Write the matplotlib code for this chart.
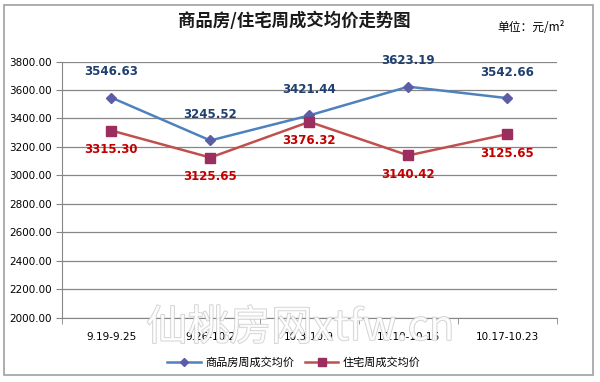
import matplotlib.pyplot as plt
import matplotlib.patheffects as pe
from matplotlib.patches import Rectangle

plt.rcParams['font.family'] = ['Noto Sans CJK SC', 'DejaVu Sans']

weeks = ["9.19-9.25", "9.26-10.2", "10.3-10.9", "10.10-10.16", "10.17-10.23"]
commercial = [3546.63, 3245.52, 3421.44, 3623.19, 3542.66]
residential = [3315.30, 3125.65, 3376.32, 3140.42, 3290.00]
# labels as printed on the chart (last residential label differs from its point)
commercial_labels = ["3546.63", "3245.52", "3421.44", "3623.19", "3542.66"]
residential_labels = ["3315.30", "3125.65", "3376.32", "3140.42", "3125.65"]
yticks = list(range(2000, 3801, 200))

fig = plt.figure(figsize=(6, 3.82), dpi=100)
fig.patches.append(Rectangle((0.007, 0.018), 0.982, 0.968, transform=fig.transFigure,
                             fill=False, edgecolor="#a0a0a0", linewidth=1.2))

ax = fig.add_axes([0.103, 0.168, 0.825, 0.671])
x = range(len(weeks))

ax.plot(x, commercial, color="#4f81bd", lw=1.8, marker="D", ms=5.5,
        mfc="#5b5ea6", mec="#5b5ea6", label="商品房周成交均价", zorder=3)
ax.plot(x, residential, color="#c0504d", lw=1.8, marker="s", ms=6.5,
        mfc="#9b2d5f", mec="#9b2d5f", label="住宅周成交均价", zorder=3)

for i, (v, t) in enumerate(zip(commercial, commercial_labels)):
    ax.annotate(t, (i, v), xytext=(0, 14), textcoords="offset points", ha="center",
                va="bottom", fontsize=8.5, fontweight="bold", color="#1f3f6e",
                family="DejaVu Sans")
for i, (v, t) in enumerate(zip(residential, residential_labels)):
    ax.annotate(t, (i, v), xytext=(0, -9), textcoords="offset points", ha="center",
                va="top", fontsize=8.5, fontweight="bold", color="#c00000",
                family="DejaVu Sans")

ax.set_xlim(-0.5, len(weeks) - 0.5)
ax.set_ylim(2000, 3800)
ax.set_yticks(yticks)
ax.set_yticklabels([f"{v:.2f}" for v in yticks], fontsize=7.5, family="DejaVu Sans")
ax.set_xticks(list(x))
ax.set_xticklabels(weeks, fontsize=7.5, family="DejaVu Sans")
ax.set_xticks([i + 0.5 for i in range(-1, len(weeks))], minor=True)
ax.tick_params(axis="x", which="major", length=0, pad=10)
ax.tick_params(axis="x", which="minor", length=4, color="#868686")
ax.tick_params(axis="y", length=4, color="#868686", pad=3)
ax.grid(axis="y", color="#868686", lw=0.9)
ax.set_axisbelow(True)
for s in ["top", "right"]:
    ax.spines[s].set_visible(False)
for s in ["left", "bottom"]:
    ax.spines[s].set_color("#868686")

fig.text(0.49, 0.945, "商品房/住宅周成交均价走势图", ha="center", va="center",
         fontsize=12.5, fontweight="bold", color="#1a1a1a")
fig.text(0.885, 0.927, "单位：元/m²", ha="center", va="center", fontsize=8.5)

# faint watermark
fig.text(0.5, 0.14, "仙桃房网xtfw.cn", ha="center", va="center", fontsize=30,
         color="white", alpha=0.75, zorder=5,
         path_effects=[pe.withStroke(linewidth=1.0, foreground="#bdbdbd")])

fig.legend(loc="center", bbox_to_anchor=(0.49, 0.05), ncol=2, frameon=False,
           fontsize=8, handlelength=3, columnspacing=1.0, handletextpad=0.4,
           markerscale=0.8)

fig.savefig("out.png", dpi=100)
